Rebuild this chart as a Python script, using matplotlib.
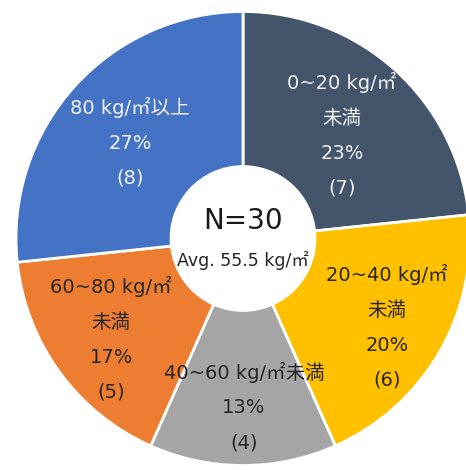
import matplotlib
matplotlib.use("Agg")
import matplotlib.pyplot as plt

plt.rcParams['font.family'] = ['DejaVu Sans', 'Noto Sans CJK JP']

categories = ["0~20 kg/㎡\n未満", "20~40 kg/㎡\n未満", "40~60 kg/㎡未満", "60~80 kg/㎡\n未満", "80 kg/㎡以上"]
counts = [7, 6, 4, 5, 8]
colors = ["#44546A", "#FFC000", "#A5A5A5", "#ED7D31", "#4472C4"]
text_colors = ["#F2F2F2", "#262626", "#262626", "#262626", "#F2F2F2"]
n_total = 30
avg_value = 55.5

# label block centres (radius units, relative to pie centre)
LABEL_POS = [(0.436, 0.456), (0.634, -0.390), (0.004, -0.742), (-0.581, -0.443), (-0.498, 0.425)]

W, H = 466, 470
R = 227.0
cx, cy = 243.0, 238.5

fig = plt.figure(figsize=(W / 100, H / 100), dpi=100)
ax = fig.add_axes([0, 0, 1, 1])

ax.pie(counts, colors=colors, startangle=90, counterclock=False, radius=1.0,
       wedgeprops=dict(width=1.0 - 0.317, edgecolor='white', linewidth=2.0))
ax.set_xlim(-cx / R, (W - cx) / R)
ax.set_ylim(-(H - cy) / R, cy / R)
ax.set_aspect('equal', adjustable='box')
ax.axis('off')

total = sum(counts)
for cat, c, tc, (lx, ly) in zip(categories, counts, text_colors, LABEL_POS):
    pct = round(c / total * 100)
    txt = f"{cat}\n{pct}%\n({c})"
    ax.text(lx, ly, txt, ha='center', va='center', color=tc, fontsize=14,
            linespacing=2.05)

ax.text(0, 0.075, f"N={n_total}", ha='center', va='center', fontsize=20,
        color='#1a1a1a')
ax.text(0, -0.095, f"Avg. {avg_value} kg/㎡", ha='center', va='center', fontsize=12.5,
        color='#262626')

fig.savefig("out.png", dpi=100)
